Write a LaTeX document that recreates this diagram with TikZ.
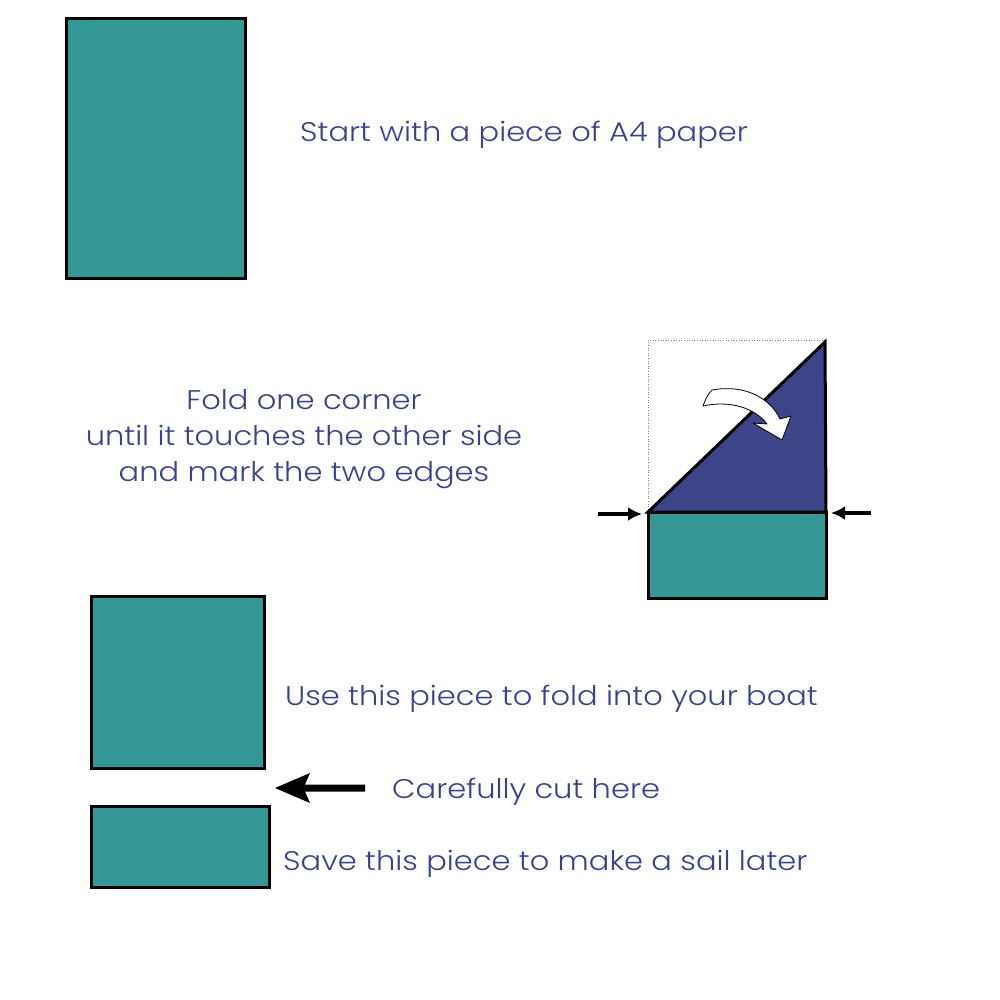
\documentclass[tikz,border=0pt]{standalone}
\usepackage{fontspec}
\setmainfont{Poppins}[UprightFont=* Light,FakeStretch=1.13]
\usetikzlibrary{arrows.meta}
\definecolor{teal1}{RGB}{53,150,150}
\definecolor{navy1}{RGB}{62,68,136}
\definecolor{txt1}{RGB}{58,66,140}
\tikzset{
  paper/.style={fill=teal1,draw=black,line width=3},
  lbl/.style={anchor=base west,inner sep=0,text=txt1,font=\fontsize{27}{36}\selectfont},
  clbl/.style={anchor=base,inner sep=0,text=txt1,font=\fontsize{27}{36}\selectfont},
  smallarrow/.style={line width=3.5,-{Latex[length=14,width=14]}},
}
\begin{document}
\begin{tikzpicture}[x=1pt,y=-1pt]
\useasboundingbox (0,0) rectangle (1000,1000);
% sheet 1
\draw[paper] (66,19) rectangle (245,278);
\node[lbl] (t1) at (300,142) {Start with a piece of A4 paper};
% fold
\draw[gray,line width=0.6,dotted] (648,512) -- (648,340) -- (825,340);
\draw[fill=teal1,draw=black,line width=3] (648,512) rectangle (826,598);
\draw[fill=navy1,draw=black,line width=3,line join=miter] (648,512) -- (825,342) -- (826,512) -- cycle;
\draw[fill=white,draw=black,line width=0.8,line join=round]
  (712,390) .. controls (745,384) and (770,398) .. (780,419) -- (791,416) -- (782,440) -- (753,423) -- (767,424)
  .. controls (755,408) and (730,400) .. (703,406) .. controls (705,400) and (708,394) .. (712,390) -- cycle;
\coordinate (la) at (598,514);
\coordinate (lb) at (642,514);
\coordinate (ra) at (871,513);
\coordinate (rb) at (831,513);
\draw[smallarrow] (la) -- (lb);
\draw[smallarrow] (ra) -- (rb);
\node[clbl] (t2a) at (304,409) {Fold one corner};
\node[clbl] (t2b) at (304,445) {until it touches the other side};
\node[clbl] (t2c) at (304,481) {and mark the two edges};
% pieces
\draw[paper] (91,596) rectangle (264,768);
\draw[paper] (91,806) rectangle (269,887);
\node[lbl] (t3) at (285,705) {Use this piece to fold into your boat};
\node[lbl] (t4) at (392,798) {Carefully cut here};
\node[lbl] (t5) at (283,870) {Save this piece to make a sail later};
\fill[black] (365,784.5) -- (305,784.5) -- (310,773) -- (275,788) -- (310,803) -- (305,791.5) -- (365,791.5) -- cycle;
\end{tikzpicture}
\end{document}
